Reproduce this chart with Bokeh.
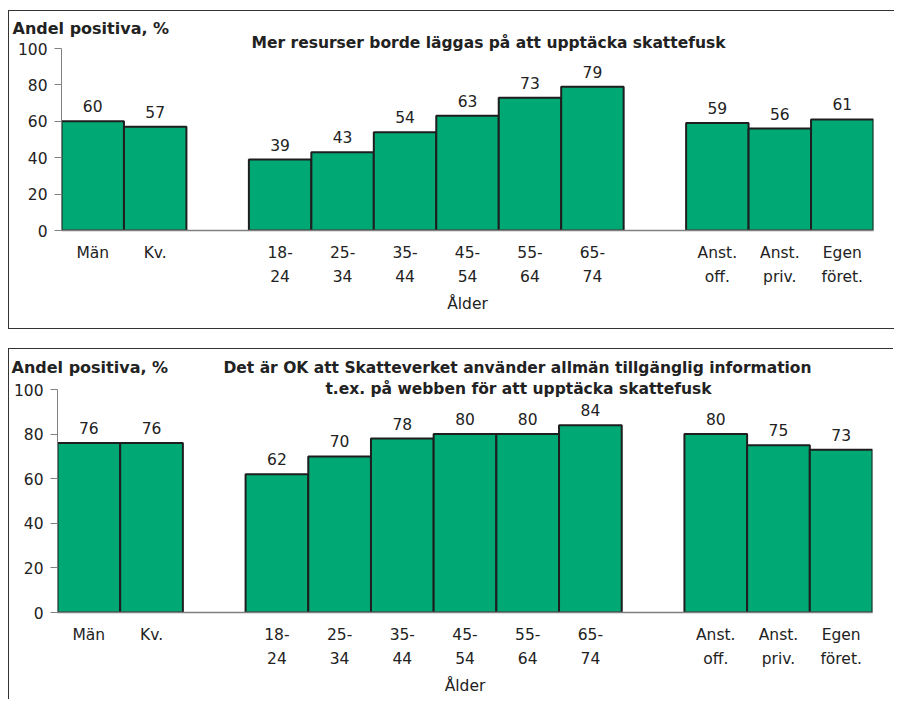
from bokeh.plotting import figure
from bokeh.models import FactorRange, ColumnDataSource, LabelSet, Label, FixedTicker, Spacer
from bokeh.layouts import column, row
from bokeh.core.properties import value
from bokeh.embed import file_html
from bokeh.resources import INLINE

# ---- data ----
gender = ["Män", "Kv."]
ages = ["18-\n24", "25-\n34", "35-\n44", "45-\n54", "55-\n64", "65-\n74"]
occupation = ["Anst.\noff.", "Anst.\npriv.", "Egen\nföret."]
gap1, gap2 = " ", "  "
factors = gender + [gap1] + ages + [gap2] + occupation
categories = gender + ages + occupation

values_top = [60, 57, 39, 43, 54, 63, 73, 79, 59, 56, 61]
values_bottom = [76, 76, 62, 70, 78, 80, 80, 84, 80, 75, 73]

title_top = ["Mer resurser borde läggas på att upptäcka skattefusk"]
title_bottom = ["Det är OK att Skatteverket använder allmän tillgänglig information",
                "t.ex. på webben för att upptäcka skattefusk"]
ylabel = "Andel positiva, %"
xlabel = "Ålder"
yticks = [0, 20, 40, 60, 80, 100]

FONT = "DejaVu Sans"
FS = "15.5px"
GREEN = "#00a874"
TXT = "#222222"
AXC = "#808080"
BORDER = "1.5px solid #333"


def make_panel(values, titles, width, height, left, right, top, bottom,
               title_offsets, ylab_x, ylab_y, **kw):
    p = figure(x_range=FactorRange(factors=factors, range_padding=0),
               y_range=(0, 100), width=width, height=height,
               output_backend="svg", toolbar_location=None,
               min_border_left=left, min_border_right=right,
               min_border_top=top, min_border_bottom=bottom, **kw)
    src = ColumnDataSource(dict(x=categories, top=values,
                                t=[str(v) for v in values]))
    p.vbar(x="x", top="top", width=1.0, source=src, fill_color=GREEN,
           line_color="#1e1e1e", line_width=2)
    p.add_layout(LabelSet(x="x", y="top", text="t", source=src,
                          text_align="center", text_baseline="bottom",
                          y_offset=9, text_font=value(FONT), text_font_size=FS,
                          text_color=TXT))
    p.xgrid.visible = False
    p.ygrid.visible = False
    p.outline_line_color = None
    p.background_fill_color = None
    p.border_fill_color = None

    ya = p.yaxis[0]
    ya.ticker = FixedTicker(ticks=yticks)
    ya.minor_tick_line_color = None
    ya.major_tick_in = 0
    ya.major_tick_out = 7
    ya.major_label_standoff = 7
    ya.axis_line_color = AXC
    ya.major_tick_line_color = AXC
    ya.major_label_text_font = FONT
    ya.major_label_text_font_size = FS
    ya.major_label_text_color = TXT

    xa = p.xaxis[0]
    xa.major_tick_in = 0
    xa.major_tick_out = 0
    xa.axis_line_color = AXC
    xa.axis_line_width = 1.5
    xa.major_label_standoff = 13
    xa.major_label_text_font = FONT
    xa.major_label_text_font_size = FS
    xa.major_label_text_color = TXT
    xa.major_label_text_line_height = 1.35
    xa.axis_label = xlabel
    xa.axis_label_standoff = 6
    xa.axis_label_text_font = FONT
    xa.axis_label_text_font_size = FS
    xa.axis_label_text_font_style = "normal"
    xa.axis_label_text_color = TXT

    p.add_layout(Label(x=0, y=100, x_offset=ylab_x, y_offset=ylab_y,
                       text=ylabel, text_font=FONT, text_font_size="16px",
                       text_font_style="bold", text_color=TXT,
                       text_align="left", text_baseline="middle"), "above")
    for t, (xo, yo) in zip(titles, title_offsets):
        p.add_layout(Label(x=0, y=100, x_offset=xo, y_offset=yo, text=t,
                           text_font=FONT, text_font_size="15.5px",
                           text_font_style="bold", text_color=TXT,
                           text_align="center", text_baseline="middle"), "above")
    return p


p1 = make_panel(values_top, title_top, 886, 319, 52, 22, 36, 100,
                [(427, 6)], -49, 20,
                styles={"border-top": BORDER, "border-left": BORDER,
                        "border-bottom": BORDER, "box-sizing": "border-box"})
p2 = make_panel(values_bottom, title_bottom, 884, 365, 48, 21, 0, 87,
                [(460, 22), (461, 1)], -46, 22,
                margin=(-15, 0, 0, 0))
box2 = column(p2, styles={"border-top": BORDER, "border-left": BORDER})

layout = row(Spacer(width=8), column(Spacer(height=10), p1, Spacer(height=19), box2))
open("out.html", "w").write(file_html(layout, INLINE))
